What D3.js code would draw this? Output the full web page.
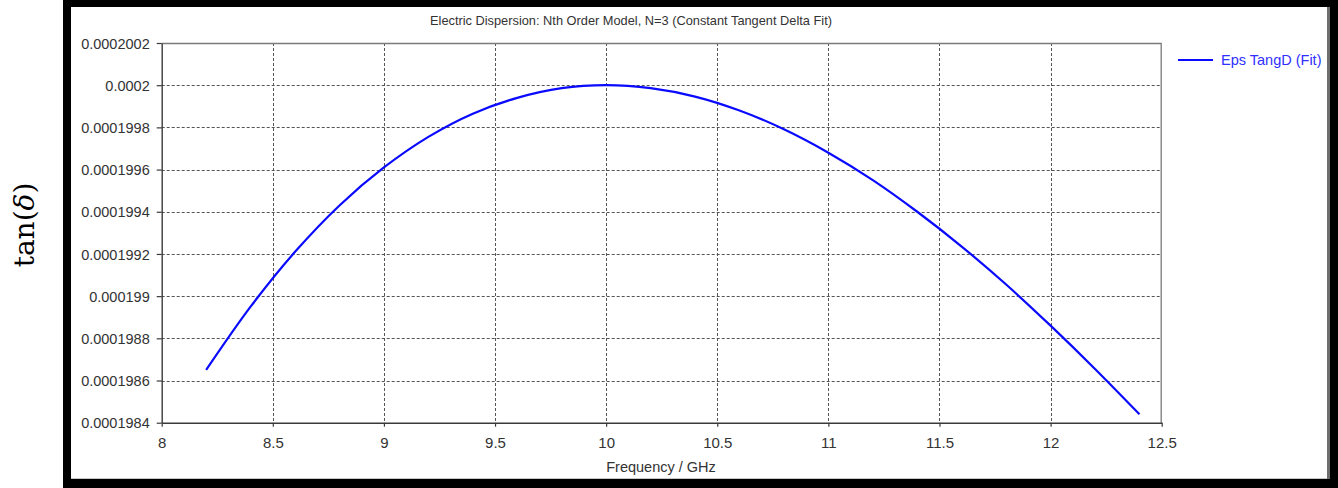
<!DOCTYPE html>
<html>
<head>
<meta charset="utf-8">
<script src="https://cdn.jsdelivr.net/npm/d3@7"></script>
<style>
  html, body { margin: 0; padding: 0; background: #ffffff; }
  svg { display: block; }
</style>
</head>
<body>
<svg id="chart" width="1338" height="488"></svg>
<script>
// Fitted loss tangent of the dispersion model across the band
const freqGHz = [8.2, 8.4, 8.6, 8.8, 9.0, 9.2, 9.4, 9.6, 9.8, 10.0,
                 10.2, 10.4, 10.6, 10.8, 11.0, 11.2, 11.4, 11.6, 11.8, 12.0, 12.2, 12.4];
const tanDelta = [0.00019865, 0.00019895, 0.00019921, 0.00019943, 0.00019961, 0.000199755,
                  0.000199865, 0.00019994, 0.000199986, 0.0002,
                  0.000199986, 0.000199946, 0.00019988, 0.000199791, 0.00019968, 0.00019955,
                  0.0001994, 0.000199235, 0.000199055, 0.00019886, 0.000198655, 0.00019844];

const xTickLabels = ["8", "8.5", "9", "9.5", "10", "10.5", "11", "11.5", "12", "12.5"];
const yTickLabels = ["0.0001984", "0.0001986", "0.0001988", "0.000199", "0.0001992",
                     "0.0001994", "0.0001996", "0.0001998", "0.0002", "0.0002002"];

const chartTitle = "Electric Dispersion: Nth Order Model, N=3 (Constant Tangent Delta Fit)";
const xTitle = "Frequency / GHz";
const seriesName = "Eps TangD (Fit)";

const svg = d3.select("#chart");
const W = 1338, H = 488;

// Framed panel
svg.append("rect").attr("x", 63).attr("y", 0).attr("width", W - 63).attr("height", H).attr("fill", "#000");
svg.append("rect").attr("x", 71).attr("y", 7).attr("width", 1256).attr("height", 472).attr("fill", "#fff");
svg.append("line").attr("x1", 71).attr("x2", 1327).attr("y1", 478.5).attr("y2", 478.5)
  .attr("stroke", "#c8c8c8").attr("stroke-width", 1);
svg.append("rect").attr("x", 1327).attr("y", 7).attr("width", 3).attr("height", 472).attr("fill", "#6e6e6e");

const plot = { left: 161.7, right: 1161.7, top: 43, bottom: 422.7 };

const xVals = xTickLabels.map(Number);
const yVals = yTickLabels.map(Number);

const x = d3.scaleLinear().domain([xVals[0], xVals[xVals.length - 1]]).range([plot.left, plot.right]);
const y = d3.scaleLinear().domain([yVals[0], yVals[yVals.length - 1]]).range([plot.bottom, plot.top]);

// Dashed grid
const grid = svg.append("g").attr("stroke", "#555").attr("stroke-width", 1).attr("stroke-dasharray", "3,2");
grid.selectAll("line.v").data(xVals.slice(1, -1)).join("line")
  .attr("x1", d => Math.round(x(d)) + 0.5).attr("x2", d => Math.round(x(d)) + 0.5)
  .attr("y1", plot.top).attr("y2", plot.bottom);
grid.selectAll("line.h").data(yVals.slice(1, -1)).join("line")
  .attr("x1", plot.left).attr("x2", plot.right)
  .attr("y1", d => Math.round(y(d)) + 0.5).attr("y2", d => Math.round(y(d)) + 0.5);

// Top and right border
svg.append("path")
  .attr("d", `M${plot.left},${plot.top + 0.5}H${plot.right - 0.5}V${plot.bottom}`)
  .attr("fill", "none").attr("stroke", "#7a7a7a").attr("stroke-width", 1.3);

// Axes
const labelIdxX = new Map(xVals.map((v, i) => [v, xTickLabels[i]]));
const labelIdxY = new Map(yVals.map((v, i) => [v, yTickLabels[i]]));

const xAxis = svg.append("g").attr("transform", `translate(0,${plot.bottom})`)
  .call(d3.axisBottom(x).tickValues(xVals).tickFormat(d => labelIdxX.get(d)).tickSizeInner(4).tickSizeOuter(0).tickPadding(11));
const yAxis = svg.append("g").attr("transform", `translate(${plot.left},0)`)
  .call(d3.axisLeft(y).tickValues(yVals).tickFormat(d => labelIdxY.get(d)).tickSizeInner(5).tickSizeOuter(0).tickPadding(7));

[xAxis, yAxis].forEach(g => {
  g.select(".domain").attr("stroke", "#3a3a3a").attr("stroke-width", 1.4);
  g.selectAll(".tick line").attr("stroke", "#3a3a3a").attr("stroke-width", 1.2);
  g.selectAll("text").attr("fill", "#333").attr("font-family", "'Liberation Sans', Arial, sans-serif");
});
xAxis.selectAll("text").attr("font-size", 15);
yAxis.selectAll("text").attr("font-size", 14.5).attr("dy", "0.36em");

// Curve
const line = d3.line().x((d, i) => x(freqGHz[i])).y(d => y(d)).curve(d3.curveCatmullRom.alpha(0.5));
svg.append("path").datum(tanDelta)
  .attr("d", line).attr("fill", "none").attr("stroke", "#0a0aff").attr("stroke-width", 2.2);

// Title
svg.append("text").attr("x", 631).attr("y", 25).attr("text-anchor", "middle")
  .attr("font-family", "'Liberation Sans', Arial, sans-serif").attr("font-size", 12.8).attr("fill", "#333")
  .text(chartTitle);

// X axis title
svg.append("text").attr("x", 661).attr("y", 472).attr("text-anchor", "middle")
  .attr("font-family", "'Liberation Sans', Arial, sans-serif").attr("font-size", 14.5).attr("fill", "#333")
  .text(xTitle);

// Legend
const legendY = 60;
svg.append("line").attr("x1", 1178).attr("x2", 1213).attr("y1", legendY).attr("y2", legendY)
  .attr("stroke", "#0a0aff").attr("stroke-width", 2.2);
svg.append("text").attr("x", 1221).attr("y", legendY).attr("dy", "0.36em")
  .attr("font-family", "'Liberation Sans', Arial, sans-serif").attr("font-size", 14.5).attr("fill", "#3030ff")
  .text(seriesName);

// Vertical quantity label
const yLab = svg.append("text").attr("transform", "translate(34,225) rotate(-90)").attr("text-anchor", "middle")
  .attr("font-family", "'DejaVu Serif', 'Liberation Serif', serif").attr("font-size", 28).attr("fill", "#000");
yLab.append("tspan").text("tan(");
yLab.append("tspan").attr("font-style", "italic").text("δ");
yLab.append("tspan").text(")");
</script>
</body>
</html>
